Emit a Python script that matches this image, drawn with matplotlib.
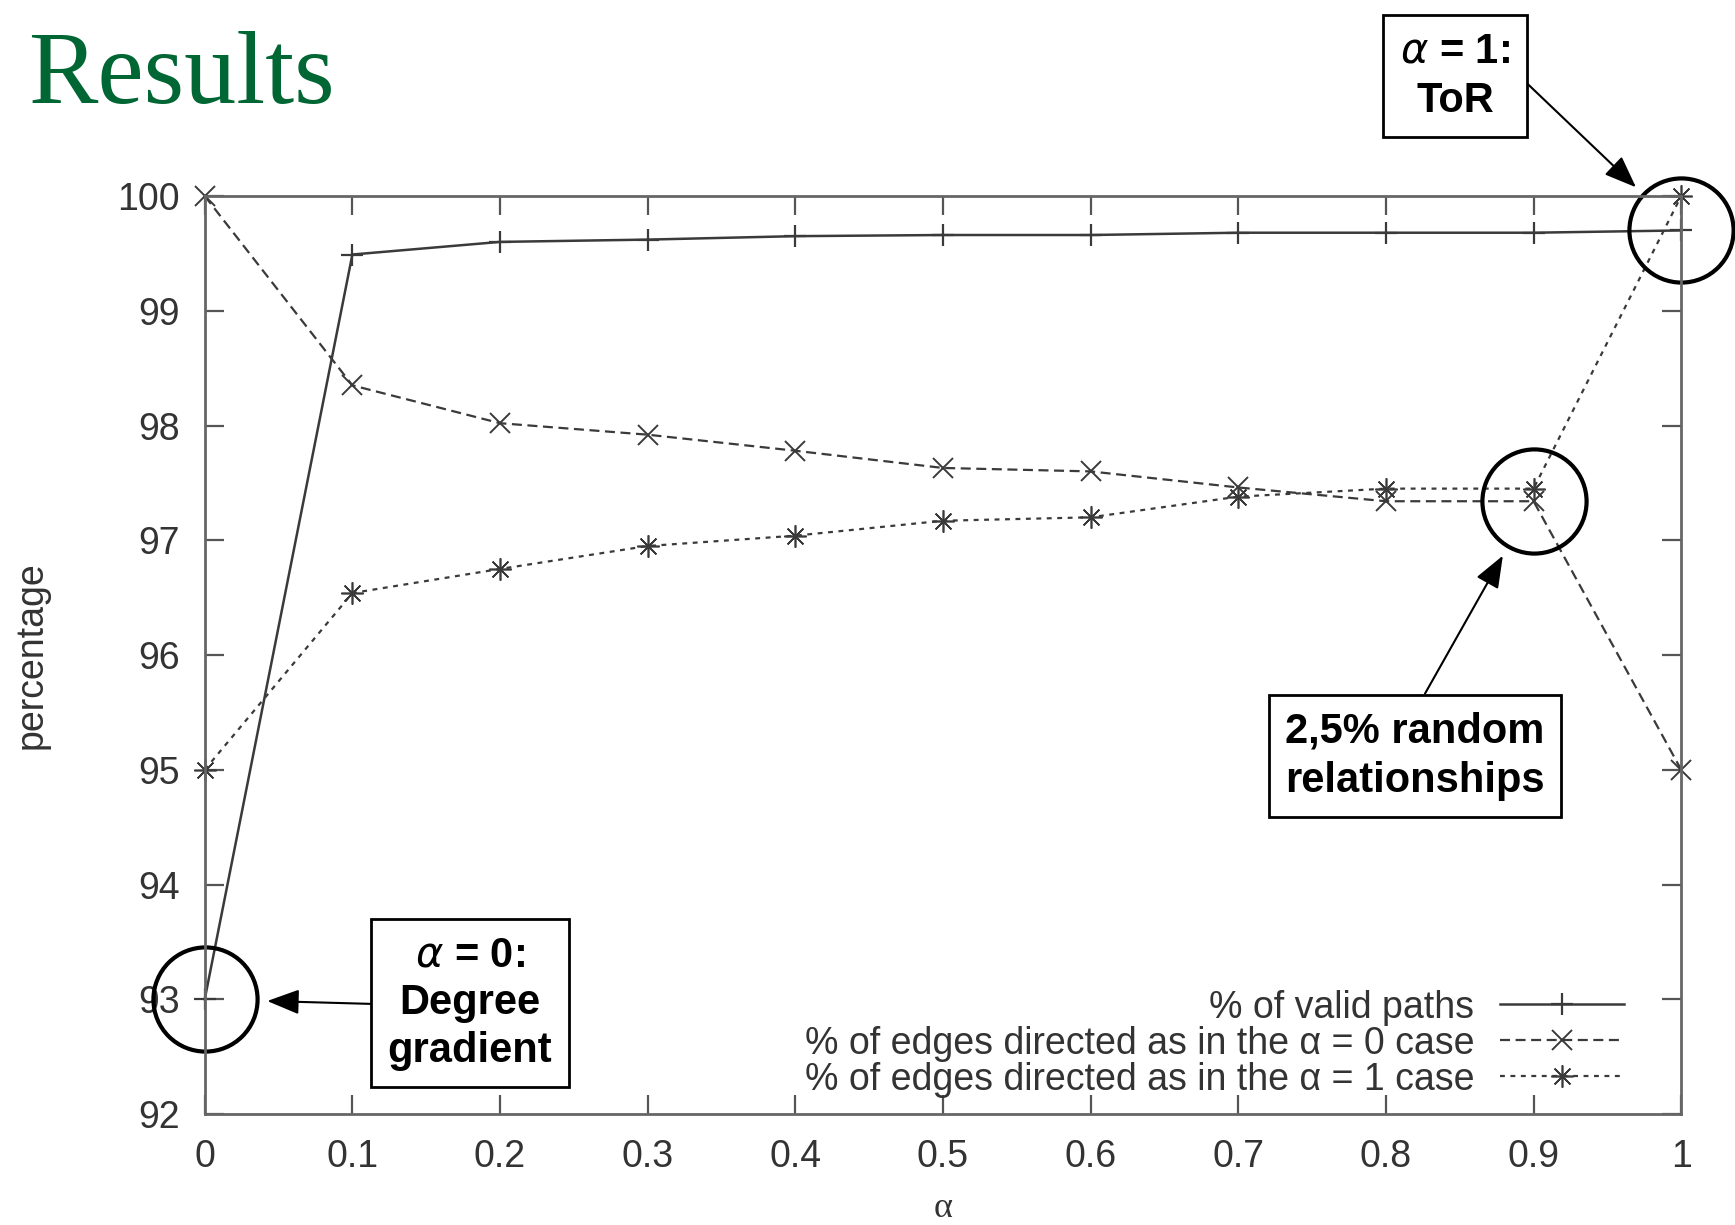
import matplotlib
matplotlib.use("Agg")
import matplotlib.pyplot as plt

# data
alpha = [0, 0.1, 0.2, 0.3, 0.4, 0.5, 0.6, 0.7, 0.8, 0.9, 1]
valid_paths = [93.0, 99.49, 99.6, 99.62, 99.65, 99.66, 99.66, 99.68, 99.68, 99.68, 99.7]
directed_a0 = [100.0, 98.35, 98.02, 97.92, 97.78, 97.63, 97.6, 97.46, 97.34, 97.34, 95.0]
directed_a1 = [95.0, 96.54, 96.75, 96.95, 97.04, 97.17, 97.2, 97.38, 97.45, 97.45, 100.0]

xtick_labels = ['0', '0.1', '0.2', '0.3', '0.4', '0.5', '0.6', '0.7', '0.8', '0.9', '1']
ytick_values = [92, 93, 94, 95, 96, 97, 98, 99, 100]
legend_labels = ['% of valid paths',
                 '% of edges directed as in the \u03b1 = 0 case',
                 '% of edges directed as in the \u03b1 = 1 case']

plt.rcParams['font.family'] = ['Liberation Sans', 'DejaVu Sans']
plt.rcParams['mathtext.fontset'] = 'dejavusans'

fig = plt.figure(figsize=(17.35, 12.25), dpi=100)
ax = fig.add_axes([0.118, 0.0906, 0.851, 0.7494])

line_col = '#3a3a3a'
ax.plot(alpha, valid_paths, color=line_col, lw=1.8, marker='+', ms=16, mew=1.6,
        label=legend_labels[0], clip_on=False)
ax.plot(alpha, directed_a0, color=line_col, lw=1.6, ls=(0, (4.5, 2.5)), marker='x',
        ms=14, mew=1.4, label=legend_labels[1], clip_on=False)
ax.plot(alpha, directed_a1, color=line_col, lw=1.6, ls=(0, (2.2, 2.5)), marker=(8, 2, 0),
        ms=16, mew=1.2, label=legend_labels[2], clip_on=False)

ax.set_xlim(0, 1)
ax.set_ylim(92, 100)
ax.set_xticks(alpha)
ax.set_xticklabels(xtick_labels)
ax.set_yticks(ytick_values)

for s in ax.spines.values():
    s.set_color('#666666')
    s.set_linewidth(2)
ax.tick_params(direction='in', length=14, width=1.6, color='#555555', labelsize=27,
               labelcolor='#333333', pad=18, top=True, right=True)

ax.set_ylabel('percentage', fontsize=27, color='#333333')
ax.yaxis.set_label_coords(-0.105, 0.5)
ax.set_xlabel('\u03b1', fontsize=26, color='#333333', family=['Liberation Serif'])
ax.xaxis.set_label_coords(0.5, -0.085)

ax.legend(loc='upper right', bbox_to_anchor=(0.974, 0.156), frameon=False,
          markerfirst=False, fontsize=27, handlelength=3.3, labelspacing=0.0,
          borderpad=0, handletextpad=0.7, labelcolor='#333333')

# circles around the highlighted points
circ = dict(marker='o', ms=75, mfc='none', mec='black', mew=3, ls='none', clip_on=False)
ax.plot(alpha[-1], valid_paths[-1], **circ)
ax.plot(alpha[-2], directed_a0[-2], **circ)
ax.plot(alpha[0], valid_paths[0], **circ)

box = dict(boxstyle='square,pad=0.4', fc='white', ec='black', lw=2)
arrow = dict(arrowstyle='-|>,head_length=0.9,head_width=0.35', color='black', lw=1.5,
             shrinkA=0, shrinkB=45, mutation_scale=22)

ax.annotate('$\\alpha$ = 1:\nToR', xy=(alpha[-1], valid_paths[-1]),
            xytext=(1455, 1149), textcoords='figure pixels', ha='center', va='center',
            fontsize=30, fontweight='bold', bbox=box, linespacing=1.3,
            arrowprops=dict(arrow, relpos=(1, 0.6)), annotation_clip=False)
ax.annotate('2,5% random\nrelationships', xy=(alpha[-2], directed_a0[-2]),
            xytext=(1415, 469), textcoords='figure pixels', ha='center', va='center',
            fontsize=30, fontweight='bold', bbox=box, linespacing=1.3,
            arrowprops=dict(arrow, relpos=(0.5, 1)), annotation_clip=False)
ax.annotate('$\\alpha$ = 0:\nDegree\ngradient', xy=(alpha[0], valid_paths[0]),
            xytext=(470, 222), textcoords='figure pixels', ha='center', va='center',
            fontsize=30, fontweight='bold', bbox=box, linespacing=1.25,
            arrowprops=dict(arrow, relpos=(0, 0.49)), annotation_clip=False)

fig.text(0.016, 0.916, 'Results', fontsize=75, color='#006633', va='baseline',
         family=['Liberation Serif'])

fig.savefig('out.png', dpi=100)
